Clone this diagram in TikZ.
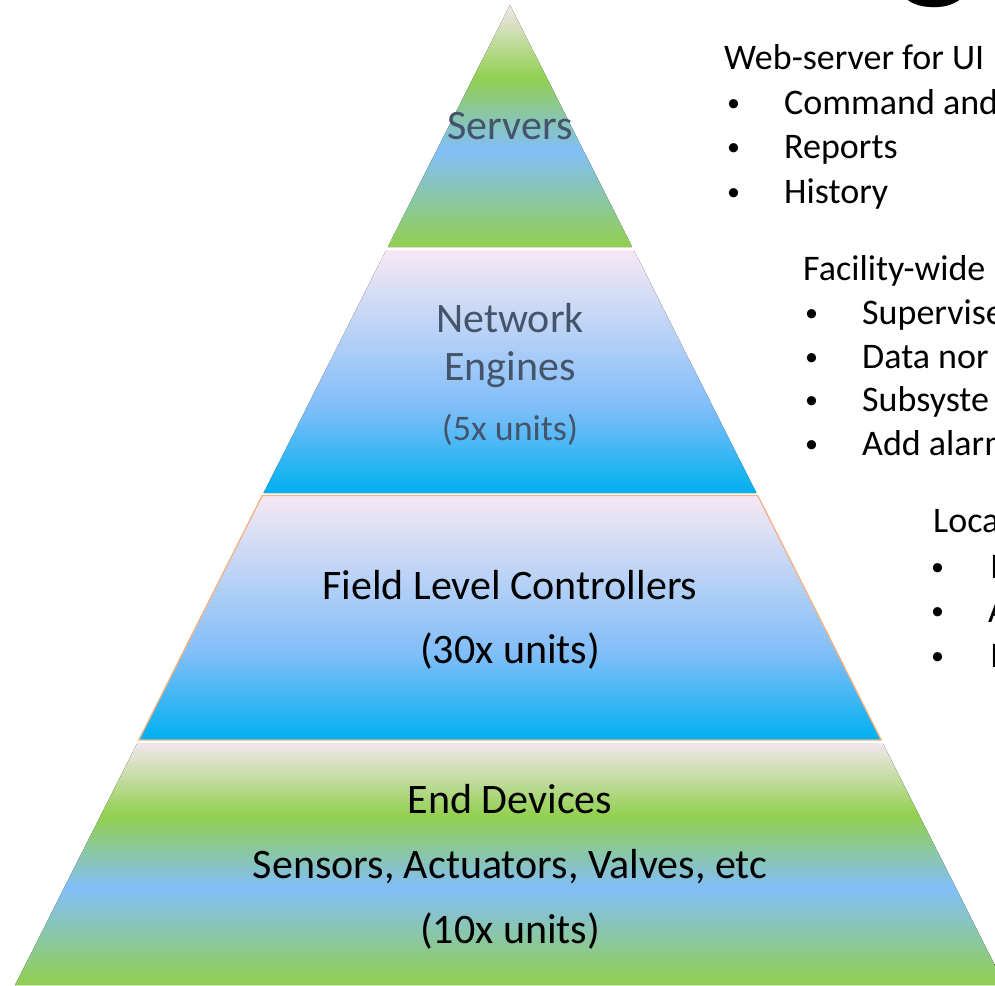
\documentclass[tikz,border=0pt]{standalone}
\usepackage{fontspec}
\setmainfont{Carlito}
\usetikzlibrary{positioning}
\definecolor{pGreen}{HTML}{92D050}
\definecolor{pSky}{HTML}{82BEF8}
\definecolor{pCyan}{HTML}{00B0F0}
\definecolor{pPale}{HTML}{F6E8F4}
\definecolor{pBeige}{HTML}{F2E6EC}
\definecolor{pSlate}{HTML}{44546A}
\definecolor{pOrange}{HTML}{F4B183}

\pgfdeclareverticalshading{greenband}{100bp}{color(0bp)=(pGreen); color(25bp)=(pGreen); color(45bp)=(pSky); color(60bp)=(pGreen); color(75bp)=(pBeige); color(100bp)=(pBeige)}
\pgfdeclareverticalshading{blueband}{100bp}{color(0bp)=(pCyan); color(25bp)=(pCyan); color(43bp)=(pSky); color(75bp)=(pPale); color(100bp)=(pPale)}

\begin{document}
\begin{tikzpicture}[
  x=1pt, y=-1pt,
  every node/.style={inner sep=0pt},
  tier/.style={
    anchor=base,
    font=\fontsize{42}{50}\selectfont
  },
  tiersmall/.style={
    anchor=base,
    font=\fontsize{36}{43}\selectfont
  },
  note/.style={
    anchor=base west,
    font=\fontsize{36}{43}\selectfont
  },
  dot/.style={
    anchor=base west,
    font=\fontsize{26}{30}\selectfont
  },
  greenlayer/.style={shading=greenband},
  bluelayer/.style={shading=blueband}
]

\useasboundingbox (0,0) rectangle (995,985);
\clip (0,0) rectangle (995,985);

\fill[greenlayer] (510,5) -- (632.2,247) -- (387.8,247) -- cycle;
\fill[bluelayer] (386.3,250) -- (633.7,250) -- (756.4,493) -- (263.6,493) -- cycle;
\shadedraw[bluelayer, draw=pOrange, line width=1.3pt]
  (262.3,495.5) -- (757.7,495.5) -- (881.2,740) -- (138.8,740) -- cycle;
\fill[greenlayer] (137.3,743) -- (882.7,743) -- (1004.9,985) -- (15.1,985) -- cycle;

\node[tier, text=pSlate] (servers) at (510,139) {Servers};
\node[tier, text=pSlate] (netA) at (510,332) {Network};
\node[tier, text=pSlate] (netB) at (510,380) {Engines};
\node[tiersmall, text=pSlate] (netN) at (510,440) {(5x units)};
\node[tier] (flcA) at (510,599) {Field Level Controllers};
\node[tier] (flcN) at (510,663) {(30x units)};
\node[tier] (endA) at (510,813) {End Devices};
\node[tier] (endB) at (510,878) {Sensors, Actuators, Valves, etc};
\node[tier] (endN) at (510,943) {(10x units)};

\node[anchor=base, font=\fontsize{170}{170}\selectfont] (ttlG) at (935,-21) {g};

\node[note] (webT) at (724,69) {Web-server for UI};
\node[dot] (webB1) at (727,111) {•};
\node[dot] (webB2) at (727,155) {•};
\node[dot] (webB3) at (727,200) {•};
\node[note] (webI1) at (784,114) {Command and};
\node[note] (webI2) at (784,158) {Reports};
\node[note] (webI3) at (784,203) {History};

\node[note] (facT) at (803,280) {Facility-wide};
\node[dot] (facB1) at (805,321) {•};
\node[dot] (facB2) at (805,365) {•};
\node[dot] (facB3) at (805,408) {•};
\node[dot] (facB4) at (805,452) {•};
\node[note] (facI1) at (862,324) {Supervise};
\node[note] (facI2) at (862,368) {Data nor};
\node[note] (facI3) at (862,411) {Subsyste};
\node[note] (facI4) at (862,455) {Add alarm};

\node[note] (locT) at (933,532) {Local};
\node[dot] (locB1) at (931,575) {•};
\node[dot] (locB2) at (931,619) {•};
\node[dot] (locB3) at (931,664) {•};
\node[note] (locI1) at (990,578) {I};
\node[note] (locI2) at (988,622) {A};
\node[note] (locI3) at (990,667) {I};

\end{tikzpicture}
\end{document}
